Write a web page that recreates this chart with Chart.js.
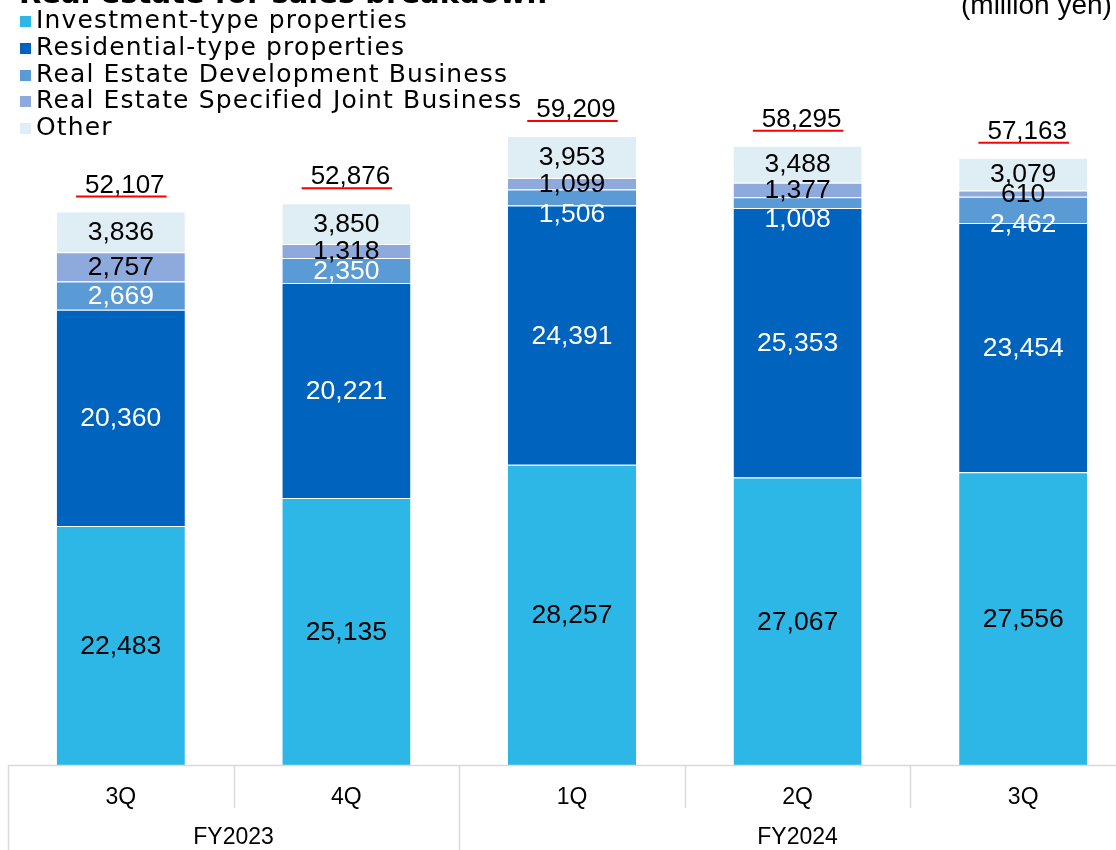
<!DOCTYPE html>
<html>
<head>
<meta charset="utf-8">
<script src="https://cdn.jsdelivr.net/npm/chart.js@4.4.1/dist/chart.umd.min.js"></script>
<style>
  html, body { margin: 0; padding: 0; background: #fff; overflow: hidden; }
  #wrap { position: absolute; left: 0; top: 0; width: 1140px; height: 850px; }
  #title {
    position: absolute; left: 19px; top: -24px; white-space: nowrap; line-height: 34px;
    font: bold 29px "DejaVu Sans", sans-serif; color: #000;
  }
  #unit {
    position: absolute; left: 961px; top: -11px; white-space: nowrap;
    font: 28px "Liberation Sans", Arial, sans-serif; color: #000;
  }
  #legend {
    position: absolute; left: 20px; top: 7px;
    font: 25px "DejaVu Sans", sans-serif; letter-spacing: 1.15px; color: #000;
  }
  #legend div { height: 26.8px; line-height: 26.8px; white-space: nowrap; }
  #legend span {
    display: inline-block; width: 11px; height: 11px; margin-right: 5px;
    vertical-align: 1px;
  }
</style>
</head>
<body>
<div id="wrap">
  <canvas id="chartVentas" width="1140" height="850"></canvas>
  <div id="title">Real estate for sales breakdown</div>
  <div id="unit">(million yen)</div>
  <div id="legend"></div>
</div>
<script>
// Trimestres y años fiscales
const trimestres = ['3Q', '4Q', '1Q', '2Q', '3Q'];
const ejercicios = [
    { label: 'FY2023', desde: 0, hasta: 1 },
    { label: 'FY2024', desde: 2, hasta: 4 }
];

// Valores por segmento (million yen)
const inversion = [22483, 25135, 28257, 27067, 27556];
const residencial = [20360, 20221, 24391, 25353, 23454];
const desarrollo = [2669, 2350, 1506, 1008, 2462];
const conjunto = [2757, 1318, 1099, 1377, 610];
const otros = [3836, 3850, 3953, 3488, 3079];
const totales = [52107, 52876, 59209, 58295, 57163];

// Estilo de cada serie (ajuste = desplazamiento vertical de la etiqueta)
const series = [
    { label: 'Investment-type properties', data: inversion, color: '#2cb7e6', texto: '#000' },
    { label: 'Residential-type properties', data: residencial, color: '#0063be', texto: '#fff' },
    { label: 'Real Estate Development Business', data: desarrollo, color: '#5b9bd5', texto: '#fff',
      ajuste: [0, 0, 16, 16, 14] },
    { label: 'Real Estate Specified Joint Business', data: conjunto, color: '#8eaadc', texto: '#000' },
    { label: 'Other', data: otros, color: '#dfeef4', texto: '#000' }
];

// Leyenda en HTML
const leyenda = document.getElementById('legend');
series.forEach(s => {
    const fila = document.createElement('div');
    const cuadro = document.createElement('span');
    cuadro.style.background = s.color;
    fila.appendChild(cuadro);
    fila.appendChild(document.createTextNode(s.label));
    leyenda.appendChild(fila);
});

const fmt = v => v.toLocaleString('en-US');

// Etiquetas de valores y totales
const etiquetas = {
    id: 'etiquetas',
    afterDatasetsDraw(chart) {
        const ctx = chart.ctx;
        ctx.save();
        ctx.font = '26.5px "Liberation Sans", Arial, sans-serif';
        ctx.textAlign = 'center';
        ctx.textBaseline = 'middle';
        chart.data.datasets.forEach((ds, i) => {
            const meta = chart.getDatasetMeta(i);
            const ajuste = series[i].ajuste || [];
            meta.data.forEach((bar, j) => {
                const p = bar.getProps(['x', 'y', 'base'], true);
                ctx.fillStyle = series[i].texto;
                ctx.fillText(fmt(ds.data[j]), p.x, (p.y + p.base) / 2 + 1 + (ajuste[j] || 0));
            });
        });
        ctx.font = '26px "Liberation Sans", Arial, sans-serif';
        const ultima = chart.getDatasetMeta(chart.data.datasets.length - 1);
        ultima.data.forEach((bar, j) => {
            const p = bar.getProps(['x', 'y'], true);
            const txt = fmt(totales[j]);
            const y = p.y - 26;
            ctx.fillStyle = '#000';
            ctx.fillText(txt, p.x + 4, y);
            const w = ctx.measureText(txt).width;
            ctx.strokeStyle = '#ff0000';
            ctx.lineWidth = 2;
            ctx.beginPath();
            ctx.moveTo(p.x + 4 - w / 2 - 9, y + 11);
            ctx.lineTo(p.x + 4 + w / 2 + 2, y + 11);
            ctx.stroke();
        });
        ctx.restore();
    }
};

// Tabla del eje X (líneas y años fiscales)
const tablaEje = {
    id: 'tablaEje',
    afterDraw(chart) {
        const ctx = chart.ctx;
        const x = chart.scales.x;
        const area = chart.chartArea;
        const ancho = x.getPixelForValue(1) - x.getPixelForValue(0);
        const borde = i => x.getPixelForValue(i) - ancho / 2;
        const fondo = chart.height;
        ctx.save();
        ctx.strokeStyle = '#d9d9d9';
        ctx.lineWidth = 1.5;
        ctx.beginPath();
        ctx.moveTo(borde(0), area.bottom + 0.5);
        ctx.lineTo(borde(trimestres.length), area.bottom + 0.5);
        const limites = new Set();
        ejercicios.forEach(e => { limites.add(e.desde); limites.add(e.hasta + 1); });
        for (let i = 0; i <= trimestres.length; i++) {
            const px = Math.round(borde(i)) + 0.5;
            ctx.moveTo(px, area.bottom);
            ctx.lineTo(px, limites.has(i) ? fondo : area.bottom + 43);
        }
        ctx.stroke();
        ctx.fillStyle = '#000';
        ctx.font = '23px "Liberation Sans", Arial, sans-serif';
        ctx.textAlign = 'center';
        ctx.textBaseline = 'middle';
        ejercicios.forEach(e => {
            const cx = (borde(e.desde) + borde(e.hasta + 1)) / 2;
            ctx.fillText(e.label, cx, area.bottom + 73);
        });
        ctx.restore();
    }
};

const ctxVentas = document.getElementById('chartVentas').getContext('2d');
new Chart(ctxVentas, {
    type: 'bar',
    data: {
        labels: trimestres,
        datasets: series.map(s => ({
            label: s.label,
            data: s.data,
            backgroundColor: s.color,
            borderColor: '#ffffff',
            borderWidth: { top: 1, right: 0, bottom: 0, left: 0 },
            borderSkipped: 'start',
            categoryPercentage: 1,
            barPercentage: 0.568
        }))
    },
    options: {
        responsive: false,
        animation: false,
        layout: { padding: { left: 8, right: 4, top: 0, bottom: 0 } },
        scales: {
            x: {
                stacked: true,
                grid: { display: false },
                border: { display: false },
                ticks: {
                    color: '#000',
                    padding: 11,
                    font: { family: '"Liberation Sans", Arial, sans-serif', size: 23 }
                },
                afterFit(scale) { scale.height = 85; }
            },
            y: {
                stacked: true,
                display: false,
                min: 0,
                max: 72000
            }
        },
        plugins: {
            legend: { display: false },
            tooltip: { enabled: false }
        }
    },
    plugins: [etiquetas, tablaEje]
});
</script>
</body>
</html>
